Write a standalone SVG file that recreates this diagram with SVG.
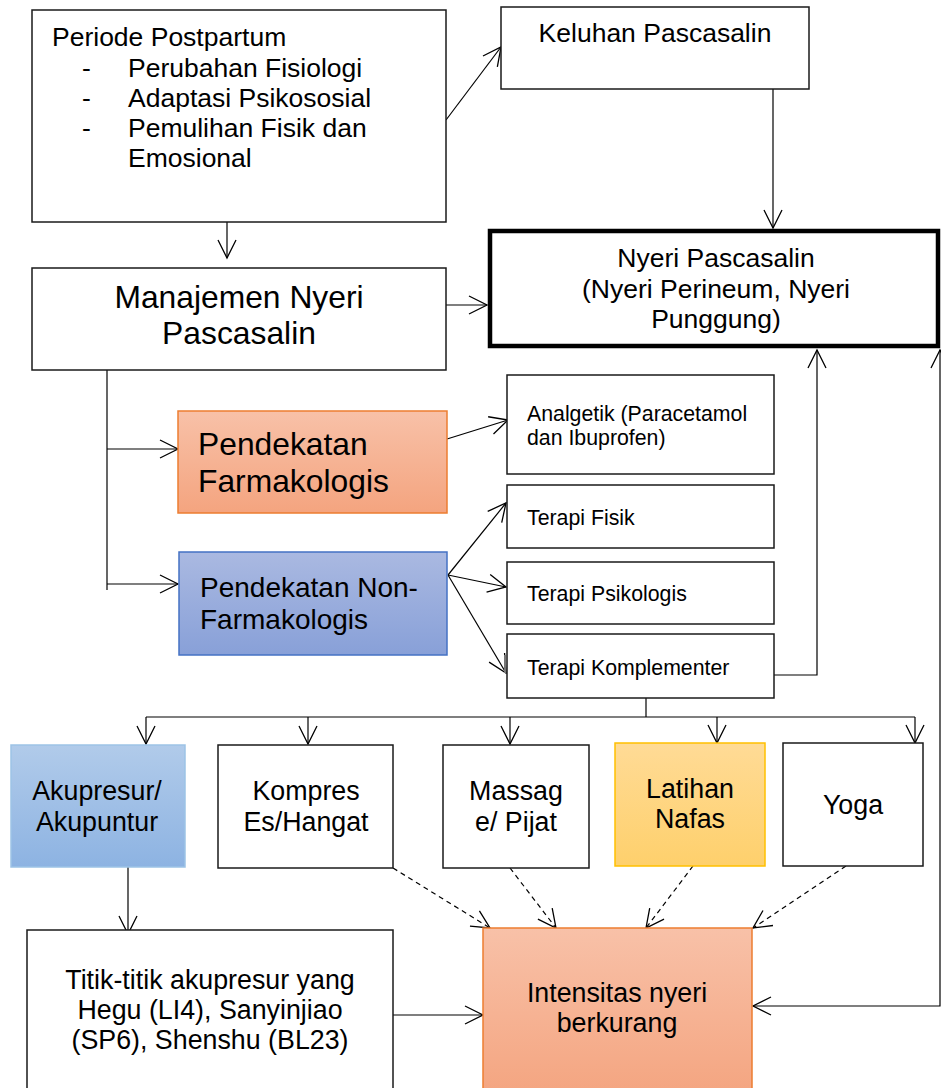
<svg xmlns="http://www.w3.org/2000/svg" width="941" height="1088" viewBox="0 0 941 1088">
<style>
text{font-family:"Liberation Sans",Arial,sans-serif;fill:#000}
.box{fill:#fff;stroke:#1a1a1a;stroke-width:1.5}
.c{stroke:#000;stroke-width:1.2;fill:none}
.d{stroke:#000;stroke-width:1.2;fill:none;stroke-dasharray:5,4}
.m{text-anchor:middle}
.f26{font-size:26.5px}
.f31{font-size:31.8px}
.f28{font-size:28px}
.f21{font-size:21.3px}
.f26b{font-size:26.8px}
</style>
<defs>
<marker id="a" markerUnits="userSpaceOnUse" markerWidth="22" markerHeight="24" viewBox="0 0 22 24" refX="20" refY="12" orient="auto-start-reverse">
<path d="M2,3 L20,12 L2,21" fill="none" stroke="#000" stroke-width="1.3"/>
</marker>
<linearGradient id="gO" x1="0" y1="0" x2="0" y2="1"><stop offset="0" stop-color="#f8c1a8"/><stop offset="1" stop-color="#f4a47f"/></linearGradient>
<linearGradient id="gB" x1="0" y1="0" x2="0" y2="1"><stop offset="0" stop-color="#aab9e1"/><stop offset="1" stop-color="#88a0d8"/></linearGradient>
<linearGradient id="gL" x1="0" y1="0" x2="0" y2="1"><stop offset="0" stop-color="#b1cbea"/><stop offset="1" stop-color="#8db3e2"/></linearGradient>
<linearGradient id="gY" x1="0" y1="0" x2="0" y2="1"><stop offset="0" stop-color="#ffdb96"/><stop offset="1" stop-color="#fed06c"/></linearGradient>
<linearGradient id="gO2" x1="0" y1="0" x2="0" y2="1"><stop offset="0" stop-color="#f8c1a8"/><stop offset="1" stop-color="#f4a47f"/></linearGradient>
</defs>

<g id="connectors">
<line class="c" x1="446" y1="120" x2="501" y2="47" marker-end="url(#a)"/>
<line class="c" x1="773" y1="89" x2="773" y2="228" marker-end="url(#a)"/>
<line class="c" x1="227" y1="222" x2="227" y2="258" marker-end="url(#a)"/>
<line class="c" x1="446" y1="305" x2="487" y2="305" marker-end="url(#a)"/>
<polyline class="c" points="107,370 107,590"/>
<line class="c" x1="107" y1="449" x2="178" y2="449" marker-end="url(#a)"/>
<line class="c" x1="107" y1="584" x2="178" y2="584" marker-end="url(#a)"/>
<line class="c" x1="447" y1="439" x2="508" y2="420" marker-end="url(#a)"/>
<line class="c" x1="448" y1="575" x2="506" y2="503" marker-end="url(#a)"/>
<line class="c" x1="448" y1="575" x2="506" y2="587" marker-end="url(#a)"/>
<line class="c" x1="448" y1="575" x2="506" y2="673" marker-end="url(#a)"/>
<line x1="505" y1="655" x2="505" y2="673" stroke="#777" stroke-width="2"/>
<polyline class="c" points="774,675 817,675 817,350" marker-end="url(#a)"/>
<polyline class="c" points="940,350 940,1006 753,1006" marker-start="url(#a)" marker-end="url(#a)"/>
<line class="c" x1="646" y1="698" x2="646" y2="717"/>
<line class="c" x1="146" y1="717" x2="915" y2="717"/>
<line class="c" x1="146" y1="717" x2="146" y2="744" marker-end="url(#a)"/>
<line class="c" x1="308" y1="717" x2="308" y2="744" marker-end="url(#a)"/>
<line class="c" x1="510" y1="717" x2="510" y2="744" marker-end="url(#a)"/>
<line class="c" x1="717" y1="717" x2="717" y2="743" marker-end="url(#a)"/>
<line class="c" x1="915" y1="717" x2="915" y2="743" marker-end="url(#a)"/>
<line class="c" x1="128" y1="867" x2="128" y2="934" marker-end="url(#a)"/>
<line class="c" x1="393" y1="1015" x2="483" y2="1015" marker-end="url(#a)"/>
<line class="d" x1="393" y1="868" x2="490" y2="928" marker-end="url(#a)"/>
<line class="d" x1="510" y1="868" x2="556" y2="928" marker-end="url(#a)"/>
<line class="d" x1="693" y1="866" x2="646" y2="928" marker-end="url(#a)"/>
<line class="d" x1="846" y1="866" x2="753" y2="928" marker-end="url(#a)"/>
</g>

<g id="periode">
<rect class="box" x="32" y="10" width="414" height="212"/>
<text class="f26" x="52" y="46">Periode Postpartum</text>
<text class="f26" x="82" y="77">-</text><text class="f26" x="128" y="77">Perubahan Fisiologi</text>
<text class="f26" x="82" y="107">-</text><text class="f26" x="128" y="107">Adaptasi Psikososial</text>
<text class="f26" x="82" y="137">-</text><text class="f26" x="128" y="137">Pemulihan Fisik dan</text>
<text class="f26" x="128" y="167">Emosional</text>
</g>

<g id="keluhan">
<rect class="box" x="501" y="7" width="308" height="82"/>
<text class="f26 m" x="655" y="42">Keluhan Pascasalin</text>
</g>

<g id="nyeri">
<rect x="490" y="231" width="448" height="115" fill="#fff" stroke="#000" stroke-width="4.5"/>
<text class="f26 m" x="716" y="267">Nyeri Pascasalin</text>
<text class="f26 m" x="716" y="298">(Nyeri Perineum, Nyeri</text>
<text class="f26 m" x="716" y="328">Punggung)</text>
</g>

<g id="manajemen">
<rect class="box" x="32" y="268" width="414" height="102"/>
<text class="f31 m" x="239" y="308">Manajemen Nyeri</text>
<text class="f31 m" x="239" y="344">Pascasalin</text>
</g>

<g id="farmakologis">
<rect x="178" y="411" width="269" height="102" fill="url(#gO)" stroke="#ed7d31" stroke-width="1.5"/>
<text class="f31" x="198" y="455">Pendekatan</text>
<text class="f31" x="198" y="492">Farmakologis</text>
</g>

<g id="nonfarmakologis">
<rect x="179" y="552" width="268" height="103" fill="url(#gB)" stroke="#4472c4" stroke-width="1.5"/>
<text class="f28" x="200" y="597">Pendekatan Non-</text>
<text class="f28" x="200" y="629">Farmakologis</text>
</g>

<g id="analgetik">
<rect class="box" x="507" y="375" width="267" height="99"/>
<text class="f21" x="527" y="421">Analgetik (Paracetamol</text>
<text class="f21" x="527" y="445">dan Ibuprofen)</text>
</g>

<g id="fisik">
<rect class="box" x="507" y="485" width="267" height="63"/>
<text class="f21" x="527" y="525">Terapi Fisik</text>
</g>

<g id="psikologis">
<rect class="box" x="507" y="562" width="267" height="62"/>
<text class="f21" x="527" y="601">Terapi Psikologis</text>
</g>

<g id="komplementer">
<rect class="box" x="507" y="634" width="267" height="64"/>
<text class="f21" x="527" y="675">Terapi Komplementer</text>
</g>

<g id="akupresur">
<rect x="11" y="745" width="174" height="122" fill="url(#gL)" stroke="#9dc3e6" stroke-width="1.5"/>
<text class="f26b m" x="97" y="800">Akupresur/</text>
<text class="f26b m" x="97" y="831">Akupuntur</text>
</g>

<g id="kompres">
<rect class="box" x="218" y="745" width="175" height="123"/>
<text class="f26b m" x="306" y="800">Kompres</text>
<text class="f26b m" x="306" y="831">Es/Hangat</text>
</g>

<g id="massage">
<rect class="box" x="443" y="745" width="146" height="123"/>
<text class="f26b m" x="516" y="800">Massag</text>
<text class="f26b m" x="516" y="831">e/ Pijat</text>
</g>

<g id="latihan">
<rect x="615" y="743" width="150" height="123" fill="url(#gY)" stroke="#ffc000" stroke-width="1.5"/>
<text class="f26b m" x="690" y="798">Latihan</text>
<text class="f26b m" x="690" y="828">Nafas</text>
</g>

<g id="yoga">
<rect class="box" x="783" y="743" width="140" height="123"/>
<text class="f26b m" x="853" y="814">Yoga</text>
</g>

<g id="titik">
<rect class="box" x="27" y="930" width="366" height="170"/>
<text class="f26b m" x="210" y="989">Titik-titik akupresur yang</text>
<text class="f26b m" x="210" y="1019">Hegu (LI4), Sanyinjiao</text>
<text class="f26b m" x="210" y="1049">(SP6), Shenshu (BL23)</text>
</g>

<g id="intensitas">
<rect x="483" y="928" width="269" height="172" fill="url(#gO2)" stroke="#ed7d31" stroke-width="1.5"/>
<text class="f26b m" x="617" y="1002">Intensitas nyeri</text>
<text class="f26b m" x="617" y="1032">berkurang</text>
</g>
</svg>
